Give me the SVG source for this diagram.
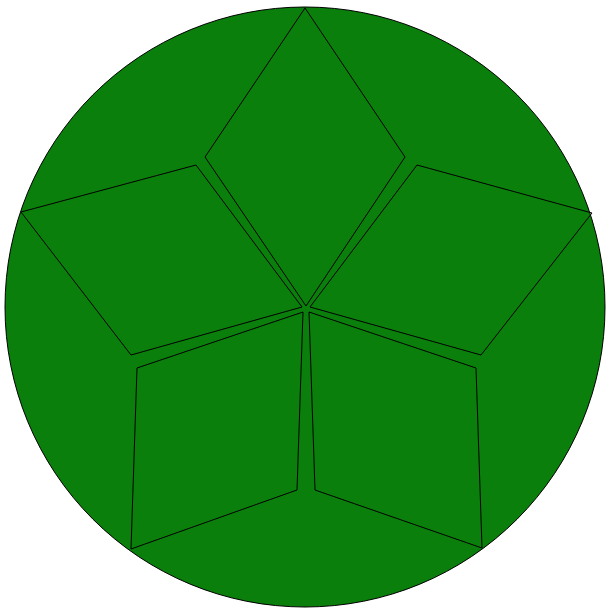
<svg xmlns="http://www.w3.org/2000/svg" width="606" height="609" viewBox="0 0 606 609">
<style>
.disk{fill:#0b7f0b;stroke:#000;stroke-width:1}
.rh{fill:none;stroke:#000;stroke-width:1;stroke-linejoin:miter}
</style>
<rect width="606" height="609" fill="#fff"/>
<g id="disk"><circle class="disk" cx="305" cy="307" r="300"/></g>
<g id="rhombi">
<polygon id="top" class="rh" points="305,8 405,157 306,306 205,157"/>
<polygon id="upper-right" class="rh" points="310,307 417,165 592,213 481,355"/>
<polygon id="upper-left" class="rh" points="302,307 196,165 21,212 131,355"/>
<polygon id="lower-left" class="rh" points="303,312 137,368 131,549 297,490"/>
<polygon id="lower-right" class="rh" points="309,312 476,368 482,548 315,490"/>
</g>
</svg>
